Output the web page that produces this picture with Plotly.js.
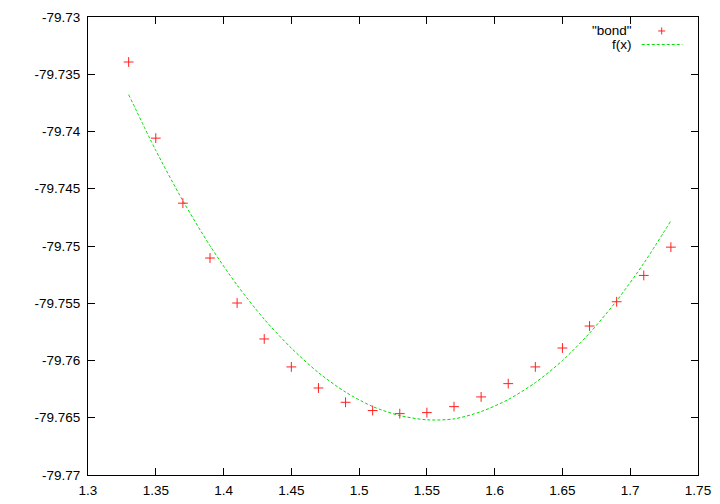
<!DOCTYPE html>
<html>
<head>
<meta charset="utf-8">
<script src="https://cdn.plot.ly/plotly-3.0.1.min.js"></script>
<style>html,body{margin:0;padding:0;background:#fff;}#chart{width:720px;height:504px;}</style>
</head>
<body>
<div id="chart"></div>
<script>
// measured data points "bond"
var bondX = [1.33, 1.35, 1.37, 1.39, 1.41, 1.43, 1.45, 1.47, 1.49, 1.51, 1.53,
             1.55, 1.57, 1.59, 1.61, 1.63, 1.65, 1.67, 1.69, 1.71, 1.73];
var bondY = [-79.73393, -79.74058, -79.74626, -79.75105, -79.75498, -79.75812,
             -79.76056, -79.76240, -79.76365, -79.76437, -79.76464, -79.76455,
             -79.76403, -79.76318, -79.76202, -79.76056, -79.75891, -79.75699,
             -79.75487, -79.75257, -79.75010];
// fitted curve f(x)
var fitX = [1.33, 1.35, 1.37, 1.39, 1.41, 1.43, 1.45, 1.47, 1.49, 1.51, 1.53,
            1.55, 1.57, 1.59, 1.61, 1.63, 1.65, 1.67, 1.69, 1.71, 1.73];
var fitY = [-79.73678, -79.74165, -79.74605, -79.74998, -79.75342, -79.75639,
            -79.75892, -79.76106, -79.76276, -79.76402, -79.76481, -79.76518,
            -79.76510, -79.76446, -79.76341, -79.76193, -79.76001, -79.75761,
            -79.75478, -79.75151, -79.74780];
// tick labels
var xTickVals = [1.3, 1.35, 1.4, 1.45, 1.5, 1.55, 1.6, 1.65, 1.7, 1.75];
var xTickText = ["1.3", "1.35", "1.4", "1.45", "1.5", "1.55", "1.6", "1.65", "1.7", "1.75"];
var yTickVals = [-79.77, -79.765, -79.76, -79.755, -79.75, -79.745, -79.74, -79.735, -79.73];
var yTickText = ["-79.77", "-79.765", "-79.76", "-79.755", "-79.75", "-79.745", "-79.74", "-79.735", "-79.73"];
var legendNames = ['"bond"', "f(x)"];

var red = "#ff2020", green = "#00e000";
var font = {family: "Liberation Sans, Arial, Helvetica, sans-serif", size: 13.5, color: "#000"};

var traces = [
  {x: fitX, y: fitY, type: "scatter", mode: "lines", name: legendNames[1],
   line: {color: green, width: 1, dash: "3px,2px", shape: "spline", smoothing: 0.8},
   hoverinfo: "skip"},
  {x: bondX, y: bondY, type: "scatter", mode: "markers", name: legendNames[0],
   marker: {symbol: "cross-thin", size: 7, color: red, line: {color: red, width: 1}}}
];

// legend (gnuplot-style: text then sample)
var pxX = 1/610, pxY = 1/458.5;
var lx = (661.7-88)*pxX, ly1 = 0.9695, ly2 = 0.940, tx = 0.895;
var layout = {
  width: 720, height: 504,
  margin: {l: 88, r: 22, t: 17, b: 29, pad: 0},
  paper_bgcolor: "#fff", plot_bgcolor: "#fff",
  showlegend: false,
  font: font,
  xaxis: {range: [1.3, 1.75], tickvals: xTickVals, ticktext: xTickText,
          ticks: "inside", ticklen: 7, tickwidth: 1, tickcolor: "#000",
          showline: true, linecolor: "#000", linewidth: 1, mirror: "allticks",
          showgrid: false, zeroline: false, tickfont: font, ticklabelstandoff: 3},
  yaxis: {range: [-79.77, -79.73], tickvals: yTickVals, ticktext: yTickText,
          ticks: "inside", ticklen: 7, tickwidth: 1, tickcolor: "#000",
          showline: true, linecolor: "#000", linewidth: 1, mirror: "allticks",
          showgrid: false, zeroline: false, tickfont: font, ticklabelstandoff: 4},
  annotations: [
    {xref: "paper", yref: "paper", x: tx, y: ly1, xanchor: "right", yanchor: "middle",
     text: legendNames[0], showarrow: false, font: font},
    {xref: "paper", yref: "paper", x: tx, y: ly2, xanchor: "right", yanchor: "middle",
     text: legendNames[1], showarrow: false, font: font}
  ],
  shapes: [
    {type: "line", xref: "paper", yref: "paper", x0: lx - 3.5*pxX, x1: lx + 3.5*pxX, y0: ly1, y1: ly1,
     line: {color: red, width: 1}},
    {type: "line", xref: "paper", yref: "paper", x0: lx, x1: lx, y0: ly1 - 3.5*pxY, y1: ly1 + 3.5*pxY,
     line: {color: red, width: 1}},
    {type: "line", xref: "paper", yref: "paper", x0: (641.7-88)*pxX, x1: (682.3-88)*pxX, y0: ly2, y1: ly2,
     line: {color: green, width: 1, dash: "3px,2px"}}
  ]
};

Plotly.newPlot("chart", traces, layout, {staticPlot: true, displayModeBar: false});
</script>
</body>
</html>
